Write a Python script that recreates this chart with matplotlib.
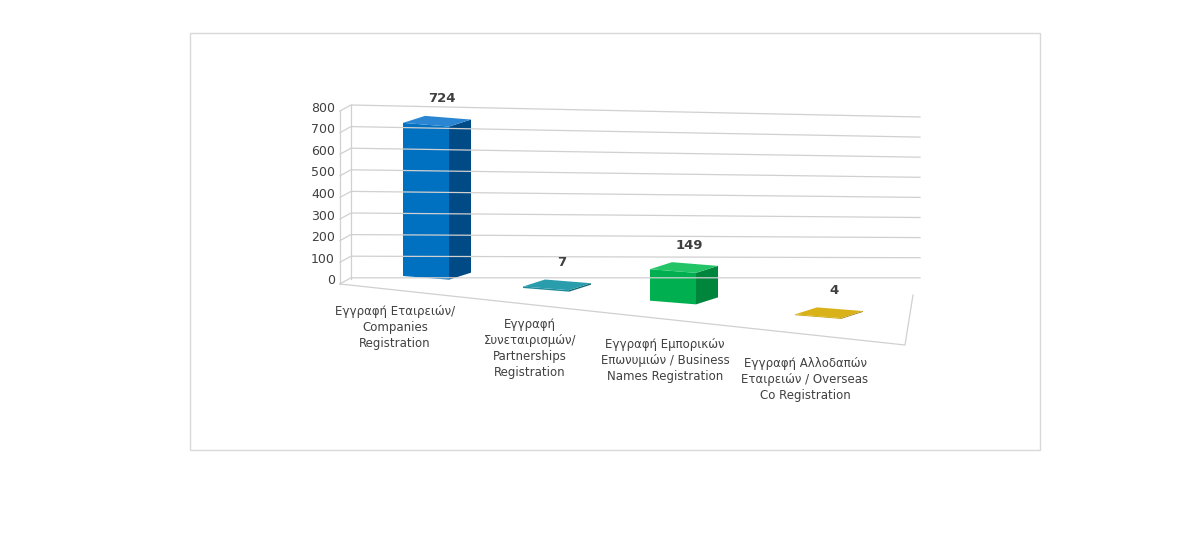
import matplotlib
matplotlib.use("Agg")
import matplotlib.pyplot as plt
from matplotlib.patches import Polygon, Rectangle

categories = ["Εγγραφή Εταιρειών/\nCompanies\nRegistration",
              "Εγγραφή\nΣυνεταιρισμών/\nPartnerships\nRegistration",
              "Εγγραφή Εμπορικών\nΕπωνυμιών / Business\nNames Registration",
              "Εγγραφή Αλλοδαπών\nΕταιρειών / Overseas\nCo Registration"]
values = [724, 7, 149, 4]
yticks = [0, 100, 200, 300, 400, 500, 600, 700, 800]

front_cols = ["#0070C0", "#1E8A9A", "#00B050", "#C9A000"]
side_cols = ["#004A85", "#146570", "#00853C", "#9A7A00"]
top_cols = ["#2A86D2", "#2A9DAD", "#22C466", "#D9B21A"]

fig = plt.figure(figsize=(12, 5.36), dpi=100)
ax = fig.add_axes([0, 0, 1, 1])
ax.set_xlim(0, 1200); ax.set_ylim(536, 0); ax.axis("off")
ax.add_patch(Rectangle((190, 33), 850, 417, fill=False, ec="#D9D9D9", lw=1))

scale = 0.2115  # px per unit
# gridlines / back wall
gc = "#D0D0D0"
for k, t in enumerate(yticks[::-1]):
    yl = 107 + k * 21.6
    yr = 117 + k * 20.1
    ax.plot([340, 351, 920], [yl + 4, yl - 2, yr], color=gc, lw=0.9)
    ax.text(335, yl + 1, str(t), ha="right", va="center", fontsize=9, color="#404040")
ax.plot([351, 351], [105, 279], color=gc, lw=0.9)
ax.plot([340, 340], [111, 284], color=gc, lw=0.9)
# floor
ax.plot([340, 905, 913], [284, 345, 295], color=gc, lw=0.9)

x0s = [403, 523, 650, 795]
w, s, dx, dy = 46, 0.08, 22, -7
for i, v in enumerate(values):
    x0 = x0s[i]
    yb = 276 + (x0 - 403) * 0.1
    h = v * scale
    fb = [(x0, yb), (x0 + w, yb + w * s)]
    ft = [(x0, yb - h), (x0 + w, yb + w * s - h)]
    front = [fb[0], fb[1], ft[1], ft[0]]
    side = [fb[1], (fb[1][0] + dx, fb[1][1] + dy), (ft[1][0] + dx, ft[1][1] + dy), ft[1]]
    top = [ft[0], ft[1], (ft[1][0] + dx, ft[1][1] + dy), (ft[0][0] + dx, ft[0][1] + dy)]
    ax.add_patch(Polygon(side, closed=True, fc=side_cols[i], ec="none"))
    ax.add_patch(Polygon(front, closed=True, fc=front_cols[i], ec="none"))
    ax.add_patch(Polygon(top, closed=True, fc=top_cols[i], ec="none"))
    ax.text(x0 + w / 2 + 16, yb - h - 24, str(v), ha="center", va="center",
            fontsize=9.5, fontweight="bold", color="#404040")

lab_x = [395, 530, 665, 805]
lab_y = [305, 318, 338, 357]
for i, c in enumerate(categories):
    ax.text(lab_x[i], lab_y[i], c, ha="center", va="top", fontsize=8.5,
            color="#404040", linespacing=1.3)

fig.savefig("out.png", dpi=100)
